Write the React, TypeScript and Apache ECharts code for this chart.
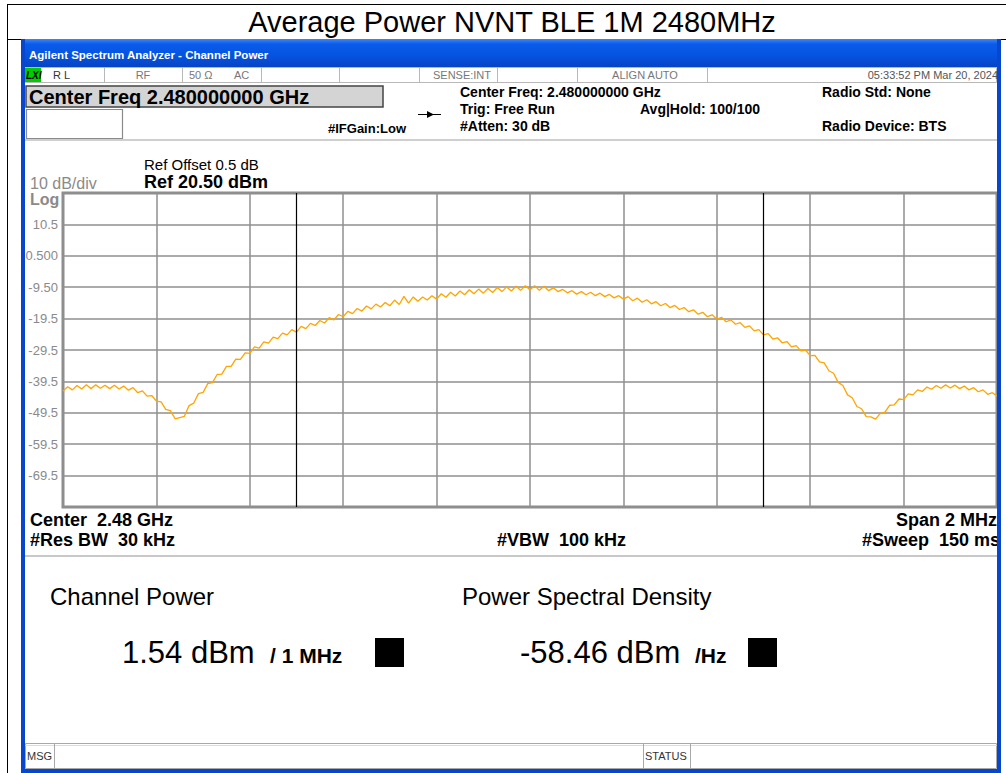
import React, { useEffect, useRef } from "react";
import * as echarts from "echarts";

// ---- data ----
const F_START = 2479; // MHz
const F_STOP = 2481; // MHz
const CHANNEL_EDGES = [2479.5, 2480.5];
const Y_TICKS = [10.5, 0.5, -9.5, -19.5, -29.5, -39.5, -49.5, -59.5, -69.5];
const Y_LABELS = ["10.5", "0.500", "-9.50", "-19.5", "-29.5", "-39.5", "-49.5", "-59.5", "-69.5"];
const TRACE_DBM = [
  -42.6, -41.2, -42.2, -40.8, -41.9, -40.6, -41.8, -40.6, -41.7, -40.7,
  -41.8, -40.7, -41.9, -41.0, -42.3, -41.5, -43.1, -42.5, -44.2, -44.0,
  -45.8, -46.0, -48.4, -48.8, -51.4, -51.0, -50.6, -47.2, -46.4, -43.4,
  -43.0, -40.2, -39.9, -37.3, -37.2, -34.7, -34.7, -32.4, -32.5, -30.4,
  -30.6, -28.5, -28.9, -26.9, -27.3, -25.4, -25.9, -24.1, -24.7, -23.0,
  -23.8, -22.0, -22.7, -21.0, -21.7, -20.1, -20.9, -19.2, -19.9, -18.2,
  -18.9, -17.2, -17.9, -16.3, -17.1, -15.5, -16.4, -14.9, -15.8, -14.4,
  -15.4, -13.6, -15.0, -12.4, -14.6, -12.6, -14.0, -12.6, -13.6, -12.2,
  -13.3, -11.6, -12.7, -11.1, -12.3, -10.7, -11.9, -10.3, -11.6, -10.1,
  -11.4, -9.9, -11.2, -9.6, -10.9, -9.4, -10.7, -9.2, -10.5, -9.0,
  -10.4, -9.0, -10.5, -9.2, -10.6, -9.7, -10.9, -10.2, -11.3, -10.6,
  -11.7, -10.9, -11.9, -11.1, -12.2, -11.4, -12.5, -11.8, -12.9, -12.2,
  -13.3, -12.5, -13.8, -13.0, -14.3, -13.5, -14.8, -14.1, -15.4, -14.7,
  -16.0, -15.3, -16.6, -16.0, -17.3, -16.7, -18.1, -17.5, -18.9, -18.3,
  -19.7, -19.1, -20.5, -19.9, -21.3, -20.8, -22.3, -21.8, -23.4, -23.0,
  -24.7, -24.3, -26.0, -25.6, -27.2, -26.8, -28.5, -28.1, -29.8, -29.5,
  -31.3, -31.2, -33.3, -33.6, -36.1, -36.9, -39.8, -40.8, -43.8, -44.7,
  -47.5, -48.2, -50.7, -50.8, -51.5, -49.7, -49.3, -47.1, -47.0, -45.1,
  -45.3, -43.5, -43.8, -42.2, -42.7, -41.3, -42.0, -40.8, -41.7, -40.6,
  -41.6, -40.7, -41.8, -41.0, -42.2, -41.5, -42.8, -42.2, -43.6, -43.1,
  -44.1,
];

const SANS = '"Liberation Sans", Arial, sans-serif';

function T(text: string, x: number, y: number, size: number, opts: any = {}) {
  const weight = opts.bold ? "bold " : "";
  const style = opts.italic ? "italic " : "";
  const align = opts.align || "left";
  return {
    type: "text",
    x,
    y,
    z: opts.z || 10,
    silent: true,
    style: {
      text,
      font: `${style}${weight}${size}px ${opts.family || SANS}`,
      fill: opts.color || "#000",
      align,
      textAlign: align,
      verticalAlign: "middle",
      textVerticalAlign: "middle",
    },
  };
}
function R(x: number, y: number, w: number, h: number, fill: any, stroke?: string, lw = 1, z = 5) {
  return {
    type: "rect",
    z,
    silent: true,
    shape: { x, y, width: w, height: h },
    style: { fill, stroke: stroke || null, lineWidth: lw },
  };
}
function L(x1: number, y1: number, x2: number, y2: number, stroke: string, lw = 1, z = 6) {
  return {
    type: "line",
    z,
    silent: true,
    shape: { x1, y1, x2, y2 },
    style: { stroke, lineWidth: lw },
  };
}

export default function App() {
  const ref = useRef<HTMLDivElement>(null);
  useEffect(() => {
    document.body.style.margin = "0";
    const chart = echarts.init(ref.current!, null, { renderer: "svg" });
    const step = (F_STOP - F_START) / (TRACE_DBM.length - 1);
    const data = TRACE_DBM.map((v, i) => [F_START + i * step, v]);
    const blue = "#0747CF";
    const titleGrad = new echarts.graphic.LinearGradient(0, 0, 0, 1, [
      { offset: 0, color: "#3E86F5" },
      { offset: 0.18, color: "#0B5BEA" },
      { offset: 0.6, color: "#0553E0" },
      { offset: 1, color: "#0744C4" },
    ]);
    const graphics: any[] = [
      // outer frame
      L(7, 4.5, 1006, 4.5, "#000", 1),
      L(7.5, 4, 7.5, 773, "#000", 1),
      L(7, 39.5, 1006, 39.5, "#000", 1),
      T("Average Power NVNT BLE 1M 2480MHz", 512, 22, 29, { align: "center" }),
      // window borders
      R(21, 39, 980, 28, titleGrad, undefined, 0, 20),
      R(21, 39, 4, 734, blue, undefined, 0, 20),
      R(997, 39, 4, 734, blue, undefined, 0, 20),
      R(21, 769, 980, 4, blue, undefined, 0, 20),
      T("Agilent Spectrum Analyzer - Channel Power", 29, 55, 11.5, { bold: true, color: "#fff", z: 21 }),
      // status row
      R(25.5, 67.5, 971, 15, "#fff", "#b8b8b8", 1),
      R(25, 68, 16, 14, "#00cc00", undefined, 0, 6),
      T("LXI", 26, 75, 10, { bold: true, italic: true }),
      T("R L", 53, 75, 11, { color: "#333" }),
      T("RF", 143, 75, 11, { color: "#777", align: "center" }),
      T("50 Ω", 189, 75, 11, { color: "#777" }),
      T("AC", 234, 75, 11, { color: "#777" }),
      T("SENSE:INT", 462, 75, 11, { color: "#777", align: "center" }),
      T("ALIGN AUTO", 645, 75, 11, { color: "#777", align: "center" }),
      T("05:33:52 PM Mar 20, 2024", 998, 75, 11, { color: "#555", align: "right" }),
      ...[104, 182, 261, 339, 419, 497, 577, 707].map((x) => L(x + 0.5, 68, x + 0.5, 82, "#b8b8b8", 1)),
      // header
      R(26, 86, 357, 21, "#d4d4d4", "#444", 1.5),
      T("Center Freq 2.480000000 GHz", 29, 97, 20, { bold: true }),
      R(26.5, 109.5, 96, 29, "#fff", "#8a8a8a", 1.2),
      T("#IFGain:Low", 328, 128, 13, { bold: true }),
      L(418, 114.5, 441, 114.5, "#000", 1),
      { type: "polygon", z: 7, silent: true, shape: { points: [[427, 111], [434, 114.5], [427, 118]] }, style: { fill: "#000" } },
      T("Center Freq: 2.480000000 GHz", 460, 92, 14, { bold: true }),
      T("Trig: Free Run", 460, 109, 14, { bold: true }),
      T("Avg|Hold: 100/100", 640, 109, 14, { bold: true }),
      T("#Atten: 30 dB", 460, 126, 14, { bold: true }),
      T("Radio Std: None", 822, 92, 14, { bold: true }),
      T("Radio Device: BTS", 822, 126, 14, { bold: true }),
      L(25, 140, 997, 140, "#cfcfcf", 2),
      // plot annotations
      T("Ref Offset 0.5 dB", 144, 164, 15),
      T("Ref 20.50 dBm", 144, 182, 18, { bold: true }),
      T("10 dB/div", 30, 183, 16, { color: "#8a8a8a" }),
      T("Log", 30, 199, 16, { color: "#8a8a8a", bold: true }),
      T("Center  2.48 GHz", 30, 520, 18, { bold: true }),
      T("Span 2 MHz", 997, 520, 18, { bold: true, align: "right" }),
      T("#Res BW  30 kHz", 30, 540, 18, { bold: true }),
      T("#VBW  100 kHz", 497, 540, 18, { bold: true }),
      T("#Sweep  150 ms", 1000, 540, 18, { bold: true, align: "right" }),
      L(25, 556, 997, 556, "#c8c8c8", 2),
      // results
      T("Channel Power", 50, 596, 24),
      T("Power Spectral Density", 462, 596, 24),
      T("1.54 dBm", 122, 652, 31),
      T("/ 1 MHz", 270, 655, 21, { bold: true }),
      R(375, 638, 29, 29, "#000"),
      T("-58.46 dBm", 520, 652, 31),
      T("/Hz", 695, 655, 21, { bold: true }),
      R(748, 638, 29, 29, "#000"),
      // message bar
      R(25.5, 743.5, 971, 25, "#fff", "#a8a8a8", 1),
      L(25, 745.5, 997, 745.5, "#dcdcdc", 1),
      L(54.5, 744, 54.5, 768, "#a8a8a8", 1),
      L(643.5, 744, 643.5, 768, "#a8a8a8", 1),
      L(690.5, 744, 690.5, 768, "#a8a8a8", 1),
      T("MSG", 27, 756, 11, { color: "#333" }),
      T("STATUS", 645, 756, 11, { color: "#333" }),
    ];

    chart.setOption({
      animation: false,
      backgroundColor: "#ffffff",
      grid: {
        left: 63,
        top: 193,
        width: 934,
        height: 314,
        show: true,
        backgroundColor: "#ffffff",
        borderColor: "#8c8c8c",
        borderWidth: 3,
        containLabel: false,
      },
      xAxis: {
        type: "value",
        min: F_START,
        max: F_STOP,
        interval: 0.2,
        axisLine: { show: false },
        axisTick: { show: false },
        axisLabel: { show: false },
        splitLine: { show: true, lineStyle: { color: "#8f8f8f", width: 1.5 } },
      },
      yAxis: {
        type: "value",
        min: -79.5,
        max: 20.5,
        interval: 10,
        axisLine: { show: false },
        axisTick: { show: false },
        splitLine: { show: true, lineStyle: { color: "#8f8f8f", width: 1.5 } },
        axisLabel: {
          color: "#8a8a8a",
          fontSize: 13,
          fontFamily: SANS,
          margin: 5,
          formatter: (v: number) => {
            const idx = Y_TICKS.findIndex((t) => Math.abs(t - v) < 0.01);
            return idx >= 0 ? Y_LABELS[idx] : "";
          },
        },
      },
      series: [
        {
          type: "line",
          data,
          showSymbol: false,
          symbol: "none",
          lineStyle: { color: "#FFA500", width: 1.3 },
          z: 3,
          markLine: {
            silent: true,
            symbol: ["none", "none"],
            label: { show: false },
            lineStyle: { color: "#000", width: 1.2, type: "solid" },
            data: CHANNEL_EDGES.map((x) => ({ xAxis: x })),
          },
        },
      ],
      graphic: { elements: graphics },
    });
    return () => chart.dispose();
  }, []);
  return <div ref={ref} style={{ width: 1006, height: 773 }} />;
}
